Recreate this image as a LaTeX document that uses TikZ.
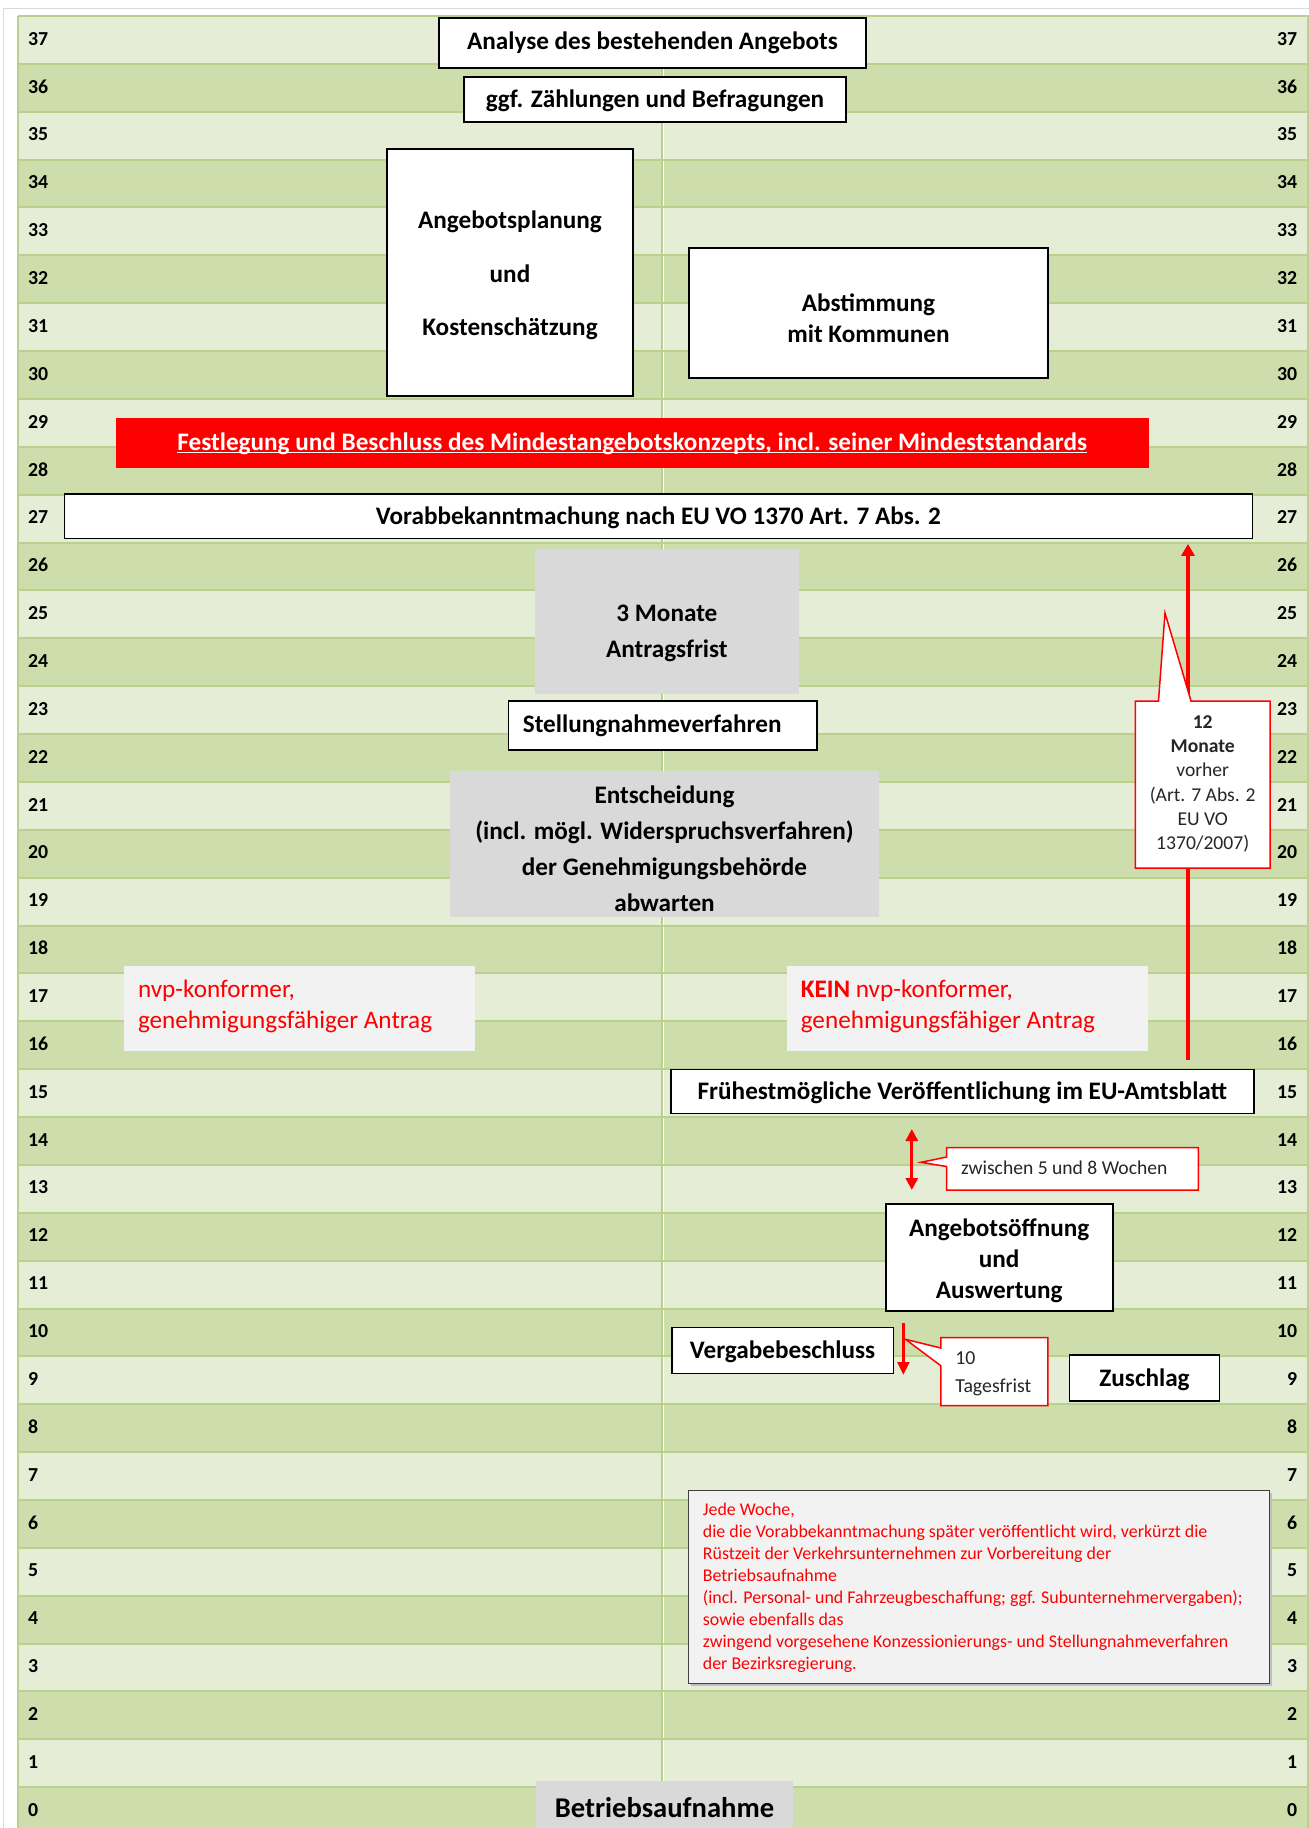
\documentclass[tikz,border=0pt]{standalone}
\usepackage{fontspec}
\setmainfont{Carlito}
\usetikzlibrary{arrows.meta,calc}
\definecolor{rowlight}{RGB}{229,237,214}
\definecolor{rowdark}{RGB}{205,221,172}
\definecolor{gridgreen}{RGB}{186,208,141}
\definecolor{boxgray}{RGB}{217,217,217}
\definecolor{lightgray}{RGB}{242,242,242}
\definecolor{framegray}{RGB}{218,218,218}
\definecolor{calltext}{RGB}{38,38,38}
\tikzset{
  rowlbl/.style={font=\bfseries\fontsize{9.9}{11}\selectfont, inner sep=0pt},
  boxshape/.style={draw=black, line width=0.8pt, fill=white, inner sep=0pt},
  grayshape/.style={fill=boxgray, draw=none, inner sep=0pt},
  lightshape/.style={fill=lightgray, draw=none, inner sep=0pt},
  bigtext/.style={font=\bfseries\fontsize{12.6}{15.4}\selectfont, align=center, inner sep=0pt},
  lowtext/.style={text height=10.8pt, text depth=2.5pt},
  redtext/.style={font=\fontsize{12.6}{15.35}\selectfont, text=red, align=left, inner sep=0pt},
  smalltext/.style={font=\fontsize{9.8}{12.15}\selectfont, text=calltext, inner sep=0pt},
  callshape/.style={draw=red, line width=0.75pt, fill=white},
  redarrow/.style={draw=red, line width=1.7pt, -{Triangle[width=6.5pt,length=6pt]}},
  dblarrow/.style={draw=red, line width=1.5pt, {Triangle[width=6pt,length=6pt]}-{Triangle[width=6pt,length=6pt]}},
}
\begin{document}
\begin{tikzpicture}[x=0.5pt,y=-0.5pt]
\useasboundingbox (0,0) rectangle (1309,1828);
\clip (0,0) rectangle (1309,1828);
\fill[white] (0,0) rectangle (1309,1828);
% outer frame
\draw[framegray, line width=0.7pt] (3.7,1830) -- (3.7,8.5) -- (1312,8.5);
% rows
\foreach \k in {0,...,37}{
  \pgfmathsetmacro\ytop{16+(37-\k)*47.87}
  \pgfmathsetmacro\ybot{\ytop+47.87}
  \pgfmathtruncatemacro\rp{mod(\k,2)}
  \ifnum\rp=1 \def\rc{rowlight}\else\def\rc{rowdark}\fi
  \fill[\rc] (17.7,\ytop) rectangle (1309,\ybot);
}
\draw[white, line width=0.6pt] (663.6,16) -- (663.6,1830);
\foreach \k in {0,...,37}{
  \pgfmathsetmacro\ytop{16+(37-\k)*47.87}
  \pgfmathsetmacro\ymid{\ytop+22.6}
  \draw[gridgreen, line width=1pt] (17.7,\ytop) -- (1309,\ytop);
  \node[rowlbl, anchor=west] (L\k) at (27.8,\ymid) {\k};
  \node[rowlbl, anchor=east] (R\k) at (1297.5,\ymid) {\k};
}
\draw[gridgreen, line width=1pt] (661.7,16) -- (661.7,1830);
\draw[gridgreen, line width=1pt] (17.7,16) -- (17.7,1830);
\draw[gridgreen, line width=1pt] (1308,16) -- (1308,1830);

% boxes
\node[boxshape, bigtext, minimum width=213.5pt, minimum height=25pt] (analyse) at (652.5,43) {Analyse des bestehenden Angebots};
\node[boxshape, bigtext, lowtext, minimum width=191pt, minimum height=22.5pt] (zaehl) at (655,99.5) {ggf. Zählungen und Befragungen};
\node[boxshape, minimum width=123pt, minimum height=123.5pt] (planung) at (510,272.5) {};
\node[bigtext, font=\bfseries\fontsize{12.6}{26.65}\selectfont] (planungtxt) at (510,275.3) {Angebotsplanung\\und\\Kostenschätzung};
\node[boxshape, minimum width=179.5pt, minimum height=65pt] (abstimm) at (868.5,313) {};
\node[bigtext] (abstimmtxt) at (868.5,318) {Abstimmung\\mit Kommunen};

\node[fill=red, draw=none, inner sep=0pt, minimum width=516.5pt, minimum height=25pt] (festl) at (632.2,443.3) {};
\node[bigtext, text=white] (festltxt) at (632.2,443.3) {Festlegung und Beschluss des Mindestangebotskonzepts, incl. seiner Mindeststandards};
\draw[white, line width=0.85pt] ([yshift=-1.3pt]festltxt.base west) -- ([yshift=-1.3pt]festltxt.base east);

\node[boxshape, bigtext, lowtext, minimum width=594pt, minimum height=22.2pt] (vorab) at (658.4,516.2) {Vorabbekanntmachung nach EU VO 1370 Art. 7 Abs. 2};

\node[grayshape, minimum width=132.3pt, minimum height=72.7pt] (frist) at (666.9,621.7) {};
\node[bigtext, font=\bfseries\fontsize{12.6}{18.15}\selectfont] (fristtxt) at (666.9,633.5) {3 Monate\\Antragsfrist};

\node[boxshape, minimum width=154.2pt, minimum height=24.5pt] (stellung) at (662.7,725.5) {};
\node[bigtext] (stellungtxt) at (652.2,725.5) {Stellungnahmeverfahren};

\node[grayshape, minimum width=214.5pt, minimum height=73.2pt] (entsch) at (664.5,844.2) {};
\node[bigtext, font=\bfseries\fontsize{12.6}{17.95}\selectfont] (entschtxt) at (664.5,848.8) {Entscheidung\\(incl. mögl. Widerspruchsverfahren)\\der Genehmigungsbehörde\\abwarten};

\node[lightshape, minimum width=175.4pt, minimum height=42.3pt] (nvp) at (299.4,1008.4) {};
\node[redtext, anchor=west] (nvptxt) at (137.6,1006.5) {nvp-konformer,\\genehmigungsfähiger Antrag};
\node[lightshape, minimum width=180.5pt, minimum height=42.3pt] (kein) at (967.5,1008.4) {};
\node[redtext, anchor=west] (keintxt) at (800.4,1006.5) {\textbf{KEIN} nvp-konformer,\\genehmigungsfähiger Antrag};

% long arrow and callout
\coordinate (a1) at (1188,1060);
\draw[redarrow, shorten >=2.35pt] (a1) -- (a1 |- vorab.south);
\draw[callshape] (1135.4,701) -- (1158.5,701) -- (1165,613) -- (1191,701) -- (1270,701) -- (1270,868) -- (1135.4,868) -- cycle;
\node[smalltext, align=center] (c12) at (1202.7,784) {\textbf{12}\\\textbf{Monate}\\vorher\\(Art. 7 Abs. 2\\EU VO\\1370/2007)};

\node[boxshape, bigtext, lowtext, minimum width=291.4pt, minimum height=22pt] (frueh) at (962.4,1091.3) {Frühestmögliche Veröffentlichung im EU-Amtsblatt};

% double arrow
\coordinate (d1) at (911.8,1129);
\coordinate (d2) at (911.8,1190);
\draw[dblarrow] (d1) -- (d2);
\draw[callshape] (946.7,1147.7) -- (1198.4,1147.7) -- (1198.4,1190) -- (946.7,1190) -- (946.7,1166.5) -- (921,1162.3) -- (946.7,1157) -- cycle;
\node[smalltext, anchor=west] (zwtxt) at (960.6,1168) {zwischen 5 und 8 Wochen};

\node[boxshape, minimum width=113.5pt, minimum height=53.5pt] (angoeff) at (999.2,1257.2) {};
\node[bigtext, font=\bfseries\fontsize{12.6}{15.5}\selectfont] (angoefftxt) at (999.2,1260.8) {Angebotsöffnung\\und\\Auswertung};
\node[boxshape, bigtext, lowtext, minimum width=110.8pt, minimum height=23pt] (vergabe) at (782.6,1350.3) {Vergabebeschluss};
\node[boxshape, bigtext, lowtext, minimum width=75.1pt, minimum height=23pt] (zuschlag) at (1144.5,1378) {Zuschlag};

% down arrow and 10 Tagesfrist
\coordinate (v1) at (903.4,1323.3);
\coordinate (v2) at (903.4,1375);
\draw[redarrow, line width=1.6pt, -{Triangle[width=5.8pt,length=6.5pt]}] (v1) -- (v2);
\draw[callshape] (940.8,1337.7) -- (1047.9,1337.7) -- (1047.9,1405.7) -- (940.8,1405.7) -- (940.8,1365.7) -- (905.5,1339.3) -- (940.8,1348) -- cycle;
\node[smalltext, font=\fontsize{9.9}{13.65}\selectfont, align=left, anchor=west] (tagetxt) at (955,1373.7) {10\\Tagesfrist};

% note
\fill[black!25] (691,1493) rectangle (1271.5,1685.5);
\node[draw=black!75, line width=0.6pt, fill=lightgray, minimum width=290.3pt, minimum height=96.3pt, inner sep=0pt] (note) at (979,1587) {};
\node[font=\fontsize{8.95}{11}\selectfont, text=red, align=left, anchor=west, inner sep=0pt] (notetxt) at (702.5,1588) {Jede Woche,\\die die Vorabbekanntmachung später veröffentlicht wird, verkürzt die\\Rüstzeit der Verkehrsunternehmen zur Vorbereitung der\\Betriebsaufnahme\\(incl. Personal- und Fahrzeugbeschaffung; ggf. Subunternehmervergaben);\\sowie ebenfalls das\\zwingend vorgesehene Konzessionierungs- und Stellungnahmeverfahren\\der Bezirksregierung.};

\node[grayshape, bigtext, font=\bfseries\fontsize{14.3}{17}\selectfont, minimum width=128.9pt, minimum height=27pt] (betrieb) at (664.5,1807.5) {Betriebsaufnahme};
\end{tikzpicture}
\end{document}
